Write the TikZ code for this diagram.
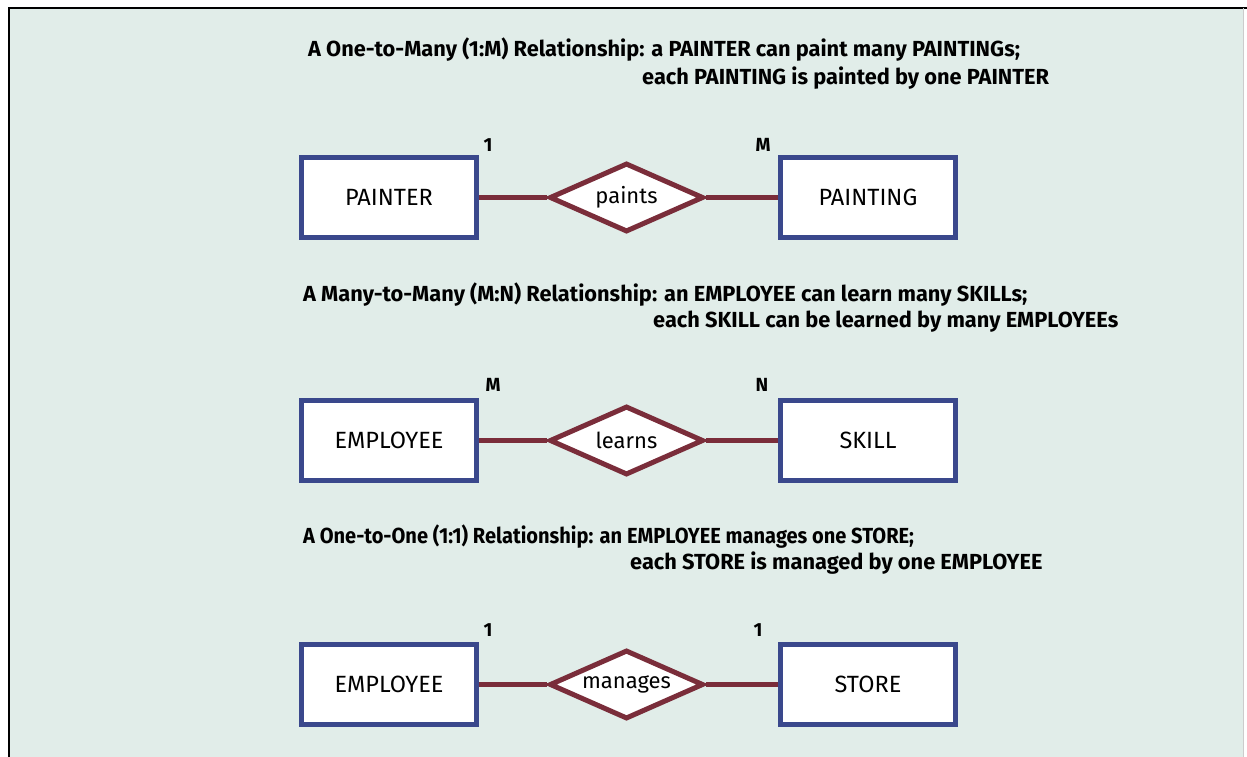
\documentclass[tikz,border=0pt]{standalone}
\usepackage{fontspec}
\setmainfont{Fira Sans}
\newfontfamily\narrowbold[FakeStretch=0.92]{Fira Sans Bold}
\usetikzlibrary{shapes.geometric}
\definecolor{panel}{RGB}{225,237,233}
\definecolor{entblue}{RGB}{58,72,140}
\definecolor{relred}{RGB}{122,45,58}

\begin{document}
\begin{tikzpicture}[x=1pt,y=-1pt,
    entity/.style={rectangle,draw=entblue,line width=5pt,fill=white,
        minimum width=175pt,minimum height=80pt,font=\fontsize{23.5}{26}\selectfont},
    relation/.style={diamond,aspect=2.2,draw=relred,line width=5pt,fill=white,
        minimum width=154pt,minimum height=69pt,inner sep=0pt,font=\fontsize{22}{24}\selectfont},
    link/.style={draw=relred,line width=4.5pt},
    card/.style={font=\bfseries\fontsize{19}{21}\selectfont,inner sep=0pt},
    caption/.style={font=\bfseries\fontsize{21.8}{24}\selectfont,inner sep=0pt,anchor=west}]

    % Frame
    \useasboundingbox (0,0) rectangle (1247,757);
    \fill[white] (0,0) rectangle (1247,757);
    \fill[panel] (9,8) rectangle (1243,757);
    \draw[line width=2pt] (9,757) -- (9,8) -- (1247,8);
    \draw[gray!40,line width=1pt] (1243,8) -- (1243,757);

    % One-to-many
    \node[caption] (title1a) at (308,50) {A One-to-Many (1:M) Relationship: a PAINTER can paint many PAINTINGs;};
    \node[caption] (title1b) at (642,78) {each PAINTING is painted by one PAINTER};
    \node[entity] (painter) at (389,197.5) {PAINTER};
    \node[relation] (paints) at (626.5,197.5) {paints};
    \node[entity] (painting) at (868,197.5) {PAINTING};
    \draw[link] (painter) -- (paints);
    \draw[link] (paints) -- (painting);
    \node[card] (card1a) at (488,145) {1};
    \node[card] (card1b) at (763,145) {M};

    % Many-to-many
    \node[caption] (title2a) at (303,295) {A Many-to-Many (M:N) Relationship: an EMPLOYEE can learn many SKILLs;};
    \node[caption] (title2b) at (653,322) {each SKILL can be learned by many EMPLOYEEs};
    \node[entity] (employee2) at (389,440.5) {EMPLOYEE};
    \node[relation] (learns) at (626.5,440.5) {learns};
    \node[entity] (skill) at (868,440.5) {SKILL};
    \draw[link] (employee2) -- (learns);
    \draw[link] (learns) -- (skill);
    \node[card] (card2a) at (493,385) {M};
    \node[card] (card2b) at (762,385) {N};

    % One-to-one
    \node[caption,font=\narrowbold\fontsize{21.8}{24}\selectfont] (title3a) at (303,537) {A One-to-One (1:1) Relationship: an EMPLOYEE manages one STORE;};
    \node[caption] (title3b) at (630,563) {each STORE is managed by one EMPLOYEE};
    \node[entity] (employee3) at (389,684.5) {EMPLOYEE};
    \node[relation] (manages) at (626.5,684.5) {manages};
    \node[entity] (store) at (868,684.5) {STORE};
    \draw[link] (employee3) -- (manages);
    \draw[link] (manages) -- (store);
    \node[card] (card3a) at (488,630) {1};
    \node[card] (card3b) at (758,630) {1};
\end{tikzpicture}
\end{document}
